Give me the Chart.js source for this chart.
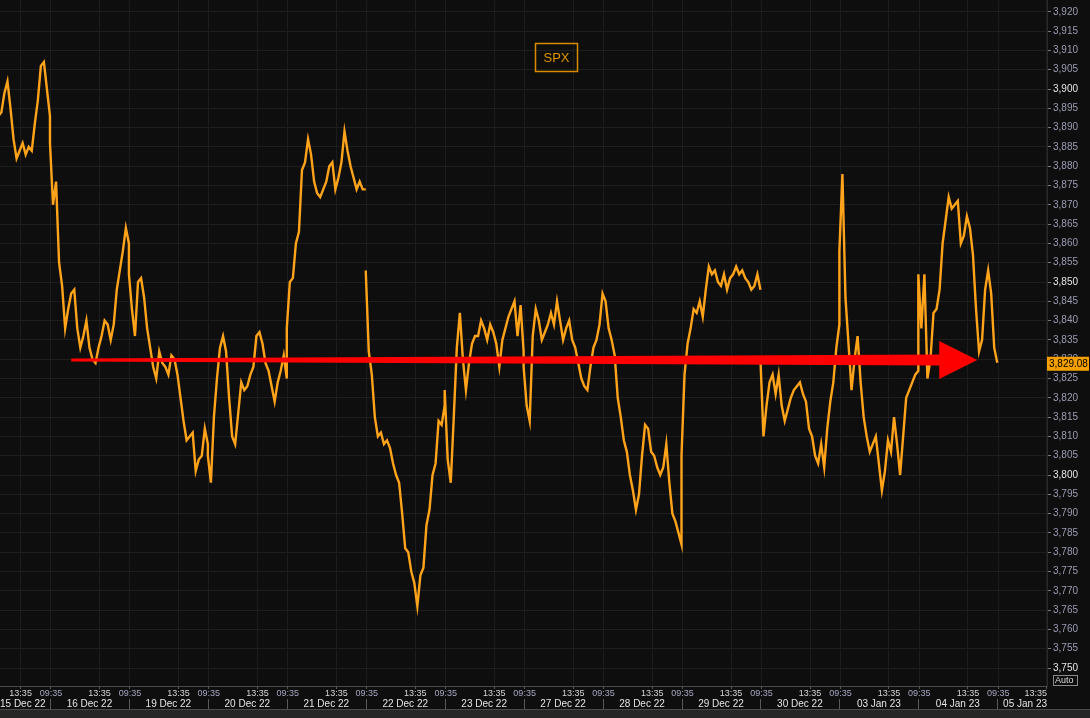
<!DOCTYPE html>
<html>
<head>
<meta charset="utf-8">
<title>SPX</title>
<script src="https://cdn.jsdelivr.net/npm/chart.js@4/dist/chart.umd.min.js"></script>
<style>
  html, body { margin: 0; padding: 0; background: #0d0d0d; }
  canvas { display: block; }
</style>
</head>
<body>
<canvas id="spxChart" width="1090" height="718"></canvas>
<script>
// sessions shown on the x axis (one per trading day)
const dayLabels = ['15 Dec 22', '16 Dec 22', '19 Dec 22', '20 Dec 22', '21 Dec 22', '22 Dec 22', '23 Dec 22',
  '27 Dec 22', '28 Dec 22', '29 Dec 22', '30 Dec 22', '03 Jan 23', '04 Jan 23', '05 Jan 23'];
const timeTicks = ['09:35', '13:35'];
const yTicks = [3750, 3755, 3760, 3765, 3770, 3775, 3780, 3785, 3790, 3795, 3800, 3805, 3810, 3815, 3820,
  3825, 3830, 3835, 3840, 3845, 3850, 3855, 3860, 3865, 3870, 3875, 3880, 3885, 3890, 3895, 3900,
  3905, 3910, 3915, 3920];
const lastPrice = 3829.08;
// sessions after which the line is not joined
const breakBefore = ['22 Dec 22', '30 Dec 22'];

// SPX, 15 minute steps from 09:30 to 16:00 (27 values per session)
const spx15Dec = [null, null, null, null, null, null, null, null, null,
  3893, 3894, 3899, 3902, 3895, 3887, 3882, 3884, 3886, 3883, 3885, 3884, 3891, 3897, 3906, 3907, 3900, 3893];
const spx16Dec = [3886, 3870, 3876, 3855, 3849, 3838, 3843, 3847, 3848, 3838, 3833, 3836, 3840, 3833,
  3830, 3829, 3833, 3836, 3840, 3839, 3835, 3839, 3848, 3853, 3858, 3864, 3860];
const spx19Dec = [3852, 3843, 3836, 3850, 3851, 3846, 3838, 3833, 3828, 3825, 3832, 3829, 3828, 3826,
  3831, 3830, 3826, 3820, 3814, 3809, 3810, 3811, 3801, 3804, 3805, 3812, 3808];
const spx20Dec = [3805, 3798, 3815, 3825, 3833, 3836, 3832, 3820, 3810, 3808, 3816, 3824, 3822, 3823,
  3826, 3828, 3836, 3837, 3834, 3829, 3827, 3823, 3819, 3824, 3827, 3831, 3825];
const spx21Dec = [3838, 3850, 3851, 3860, 3863, 3879, 3881, 3887, 3883, 3876, 3873, 3872, 3874, 3876,
  3880, 3881, 3874, 3877, 3881, 3889, 3884, 3880, 3877, 3874, 3876, 3874, 3874];
const spx22Dec = [3853, 3832, 3826, 3815, 3810, 3811, 3808, 3809, 3807, 3803, 3800, 3798, 3790, 3781,
  3780, 3775, 3772, 3766, 3774, 3776, 3787, 3791, 3800, 3803, 3814, 3813, 3818];
const spx23Dec = [3822, 3804, 3798, 3815, 3833, 3842, 3830, 3822, 3829, 3834, 3836, 3836, 3840, 3838,
  3835, 3839, 3837, 3834, 3828, 3835, 3838, 3841, 3843, 3845, 3836, 3844, 3832];
const spx27Dec = [3828, 3818, 3814, 3836, 3843, 3840, 3835, 3837, 3839, 3842, 3839, 3845, 3840, 3835,
  3838, 3840, 3835, 3833, 3829, 3825, 3823, 3822, 3828, 3833, 3835, 3839, 3847];
const spx28Dec = [3847, 3845, 3838, 3835, 3831, 3820, 3815, 3809, 3806, 3800, 3796, 3791, 3795, 3805,
  3813, 3812, 3806, 3805, 3802, 3800, 3802, 3808, 3798, 3790, 3788, 3785, 3782];
const spx29Dec = [3805, 3826, 3834, 3838, 3843, 3842, 3845, 3841, 3848, 3854, 3852, 3853, 3850, 3849,
  3852, 3848, 3851, 3852, 3854, 3852, 3853, 3851, 3850, 3848, 3849, 3852, 3848];
const spx30Dec = [3830, 3810, 3818, 3824, 3826, 3821, 3826, 3818, 3814, 3817, 3820, 3822, 3823, 3824,
  3821, 3819, 3812, 3810, 3805, 3803, 3808, 3802, 3812, 3819, 3824, 3833, 3839];
const spx03Jan = [3858, 3878, 3846, 3834, 3822, 3830, 3836, 3824, 3815, 3810, 3806, 3808, 3810, 3803,
  3796, 3801, 3809, 3806, 3815, 3808, 3800, 3810, 3820, 3822, 3824, 3826, 3827];
const spx04Jan = [3852, 3838, 3852, 3825, 3830, 3842, 3843, 3848, 3860, 3866, 3872, 3869, 3870, 3871,
  3860, 3862, 3867, 3864, 3857, 3843, 3832, 3835, 3848, 3853, 3847, 3833, 3829.08];

const sessions = [spx15Dec, spx16Dec, spx19Dec, spx20Dec, spx21Dec, spx22Dec, spx23Dec,
  spx27Dec, spx28Dec, spx29Dec, spx30Dec, spx03Jan, spx04Jan];

const sessionMin = 390;   // 09:30 - 16:00
const stepMin = 15;

function timeToPos(day, hhmm) {
  let p = hhmm.split(':');
  return day + ((parseInt(p[0]) * 60 + parseInt(p[1])) - 570) / sessionMin;
}

// build points on a "trading time" axis, one unit per session
let points = [];
sessions.forEach(function (vals, d) {
  if (breakBefore.indexOf(dayLabels[d]) >= 0) points.push({ x: d, y: null });
  for (let k = 0; k < vals.length; k++) {
    if (vals[k] === null) continue;
    points.push({ x: d + k * stepMin / sessionMin, y: vals[k] });
  }
});

// red arrow drawn over the chart (annotation, in data units)
const arrow = { fromX: timeToPos(1, '11:15'), toX: timeToPos(12, '14:21'), y: 3829.8 };

const bgPlugin = {
  id: 'bg',
  beforeDraw(chart) {
    const ctx = chart.ctx;
    ctx.save();
    ctx.fillStyle = '#0e0e0e';
    ctx.fillRect(0, 0, chart.width, chart.height);
    ctx.fillStyle = '#262626';
    ctx.fillRect(0, 709, chart.width, 9);
    ctx.fillStyle = '#4a4a4a';
    ctx.fillRect(0, 709, chart.width, 1);
    ctx.restore();
  },
  afterDatasetsDraw(chart) {
    const ctx = chart.ctx;
    const x = chart.scales.x, y = chart.scales.y;
    let x0 = x.getPixelForValue(arrow.fromX);
    let x1 = x.getPixelForValue(arrow.toX);
    let yy = y.getPixelForValue(arrow.y);
    let headLen = 38, headHalf = 19;
    ctx.save();
    ctx.fillStyle = '#ff0000';
    ctx.beginPath();
    ctx.moveTo(x0, yy - 1.5);
    ctx.lineTo(x1 - headLen, yy - 5.5);
    ctx.lineTo(x1 - headLen, yy - headHalf);
    ctx.lineTo(x1, yy);
    ctx.lineTo(x1 - headLen, yy + headHalf);
    ctx.lineTo(x1 - headLen, yy + 5.5);
    ctx.lineTo(x0, yy + 1.5);
    ctx.closePath();
    ctx.fill();
    ctx.restore();
  },
  afterDraw(chart) {
    const ctx = chart.ctx;
    const x = chart.scales.x, y = chart.scales.y;
    const area = chart.chartArea;
    ctx.save();

    // time row
    ctx.font = '9px "Liberation Sans", Arial, sans-serif';
    ctx.textAlign = 'center';
    ctx.textBaseline = 'middle';
    for (let d = 0; d < dayLabels.length; d++) {
      timeTicks.forEach(function (t) {
        let v = timeToPos(d, t);
        if (v < x.min || v > x.max) return;
        let px = x.getPixelForValue(v);
        let w = ctx.measureText(t).width;
        px = Math.min(px, area.right - w / 2);
        ctx.fillStyle = t === '09:35' ? '#a6a6c2' : '#d6d6d6';
        ctx.fillText(t, px, 694);
      });
    }

    // date row with separators
    ctx.font = '10px "Liberation Sans", Arial, sans-serif';
    for (let d = 0; d < dayLabels.length; d++) {
      let start = x.getPixelForValue(d);
      let mid = x.getPixelForValue(d + 0.5);
      let w = ctx.measureText(dayLabels[d]).width;
      mid = Math.max(mid, w / 2);
      mid = Math.min(mid, area.right - w / 2);
      if (start > 0 && start < area.right) {
        ctx.fillStyle = '#5a5a5a';
        ctx.fillRect(Math.round(start), 699, 1, 10);
      }
      ctx.fillStyle = '#e4e4e4';
      ctx.fillText(dayLabels[d], mid, 704.5);
    }

    // last price tag
    let py = y.getPixelForValue(lastPrice);
    ctx.fillStyle = '#f5a000';
    ctx.fillRect(area.right, py - 6, 42, 14);
    ctx.fillStyle = '#000';
    ctx.textAlign = 'left';
    ctx.font = '10px "Liberation Sans", Arial, sans-serif';
    ctx.fillText(lastPrice.toLocaleString('en-US', { minimumFractionDigits: 2 }), area.right + 2, py + 1);

    // Auto button
    ctx.strokeStyle = '#8a8a8a';
    ctx.lineWidth = 1;
    ctx.strokeRect(1053.5, 675.5, 24, 10);
    ctx.fillStyle = '#dcdcdc';
    ctx.font = '9px "Liberation Sans", Arial, sans-serif';
    ctx.fillText('Auto', 1055, 681);

    // legend box
    ctx.strokeStyle = '#d98c00';
    ctx.lineWidth = 1.5;
    ctx.strokeRect(535.5, 43.5, 42, 28);
    ctx.fillStyle = '#e39400';
    ctx.font = '13px "Liberation Sans", Arial, sans-serif';
    ctx.textAlign = 'center';
    ctx.fillText(chart.data.datasets[0].label, 556.5, 58);
    ctx.restore();
  }
};

const ctx = document.getElementById('spxChart');
new Chart(ctx, {
  type: 'line',
  data: {
    datasets: [{
      label: 'SPX',
      data: points,
      borderColor: '#ffa31a',
      borderWidth: 2.4,
      pointRadius: 0,
      tension: 0,
      spanGaps: false
    }]
  },
  options: {
    responsive: false,
    animation: false,
    devicePixelRatio: 1,
    layout: { padding: 0 },
    plugins: { legend: { display: false }, tooltip: { enabled: false } },
    scales: {
      x: {
        type: 'linear',
        position: 'bottom',
        min: 0.367,
        max: 13.63,
        afterBuildTicks: function (scale) {
          let t = [];
          for (let d = 0; d < dayLabels.length; d++)
            timeTicks.forEach(function (s) {
              let v = timeToPos(d, s);
              if (v >= scale.min && v <= scale.max) t.push({ value: v });
            });
          scale.ticks = t;
        },
        afterFit: function (scale) {
          scale.height = 32;
          scale.paddingLeft = 0;
          scale.paddingRight = 0;
        },
        ticks: { display: false },
        grid: { color: '#1c1c1c', tickLength: 3, tickColor: '#5a5a5a' },
        border: { color: '#4a4a4a' }
      },
      y: {
        position: 'right',
        min: 3745.34,
        max: 3923.06,
        afterBuildTicks: function (scale) {
          scale.ticks = yTicks.map(function (v) { return { value: v }; });
        },
        afterFit: function (scale) {
          scale.width = 43;
          scale.paddingTop = 0;
          scale.paddingBottom = 0;
        },
        ticks: {
          padding: 2,
          font: { family: '"Liberation Sans", Arial, sans-serif', size: 10 },
          color: function (c) { return c.tick && c.tick.value % 50 === 0 ? '#e6e6e6' : '#9c9cb4'; },
          callback: function (v) { return v.toLocaleString('en-US'); }
        },
        grid: { color: '#1e1e1e', tickLength: 4, tickColor: '#7a7a7a' },
        border: { color: '#2a2a2a' }
      }
    }
  },
  plugins: [bgPlugin]
});
</script>
</body>
</html>
